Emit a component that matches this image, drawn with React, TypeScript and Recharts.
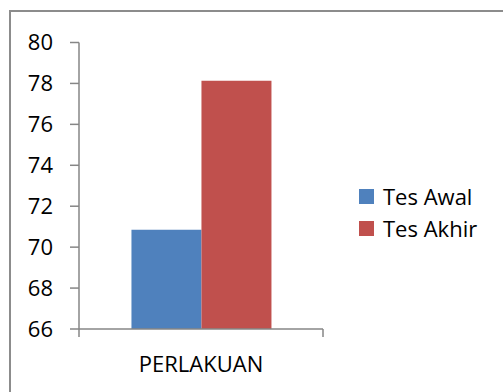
import { Bar, BarChart, XAxis, YAxis } from "recharts";

const categories = ["PERLAKUAN"];
const tesAwal = [70.85];
const tesAkhir = [78.13];
const yTicks = [66, 68, 70, 72, 74, 76, 78, 80];

const series = [
  { key: "awal", name: "Tes Awal", color: "#4F81BD" },
  { key: "akhir", name: "Tes Akhir", color: "#C0504D" },
];

const data = categories.map((c, i) => ({ name: c, awal: tesAwal[i], akhir: tesAkhir[i] }));

const FONT = "'Open Sans', sans-serif";
const AXIS = "#868686";

// category label plus the little boundary ticks Excel draws between categories
function CategoryTick(props: any) {
  const { x, y, payload } = props;
  const half = payload.offset ?? 0;
  return (
    <g>
      <line x1={x - half} x2={x - half} y1={y} y2={y + 8} stroke={AXIS} strokeWidth={1.5} />
      <line x1={x + half} x2={x + half} y1={y} y2={y + 8} stroke={AXIS} strokeWidth={1.5} />
      <text x={x} y={y + 27} dy="0.71em" textAnchor="middle" fill="#000" fontSize={22} fontFamily={FONT}>
        {payload.value}
      </text>
    </g>
  );
}

function LegendBox() {
  return (
    <div style={{ position: "absolute", left: 359, top: 180, fontFamily: FONT, fontSize: 22, color: "#000" }}>
      {series.map((s) => (
        <div key={s.key} style={{ display: "flex", alignItems: "center", height: 32 }}>
          <span style={{ width: 15, height: 15, background: s.color, marginRight: 9, display: "inline-block" }} />
          <span>{s.name}</span>
        </div>
      ))}
    </div>
  );
}

export default function App() {
  return (
    <div style={{ position: "fixed", left: 0, top: 0, width: 503, height: 392, overflow: "hidden", background: "#fff" }}>
      <div
        style={{
          position: "absolute",
          left: 9,
          top: 10,
          width: 520,
          height: 420,
          border: "2px solid #8c8c8c",
          boxSizing: "border-box",
        }}
      />
      <div style={{ position: "absolute", left: 0, top: 0 }}>
        <BarChart
          width={503}
          height={392}
          data={data}
          margin={{ top: 42.5, right: 180, left: 0, bottom: 0 }}
          barCategoryGap="21.5%"
          barGap={0}
        >
          <XAxis
            dataKey="name"
            axisLine={{ stroke: AXIS, strokeWidth: 1.5 }}
            tickLine={false}
            tickSize={0}
            tickMargin={0}
            height={63}
            tick={<CategoryTick />}
          />
          <YAxis
            domain={[66, 80]}
            ticks={yTicks}
            interval={0}
            width={79}
            axisLine={{ stroke: AXIS, strokeWidth: 1.5 }}
            tickLine={{ stroke: AXIS, strokeWidth: 1.5 }}
            tickSize={9}
            tickMargin={17}
            tick={{ fill: "#000", fontSize: 22, fontFamily: FONT }}
          />
          {series.map((s) => (
            <Bar key={s.key} dataKey={s.key} name={s.name} fill={s.color} isAnimationActive={false} />
          ))}
        </BarChart>
      </div>
      <LegendBox />
    </div>
  );
}
